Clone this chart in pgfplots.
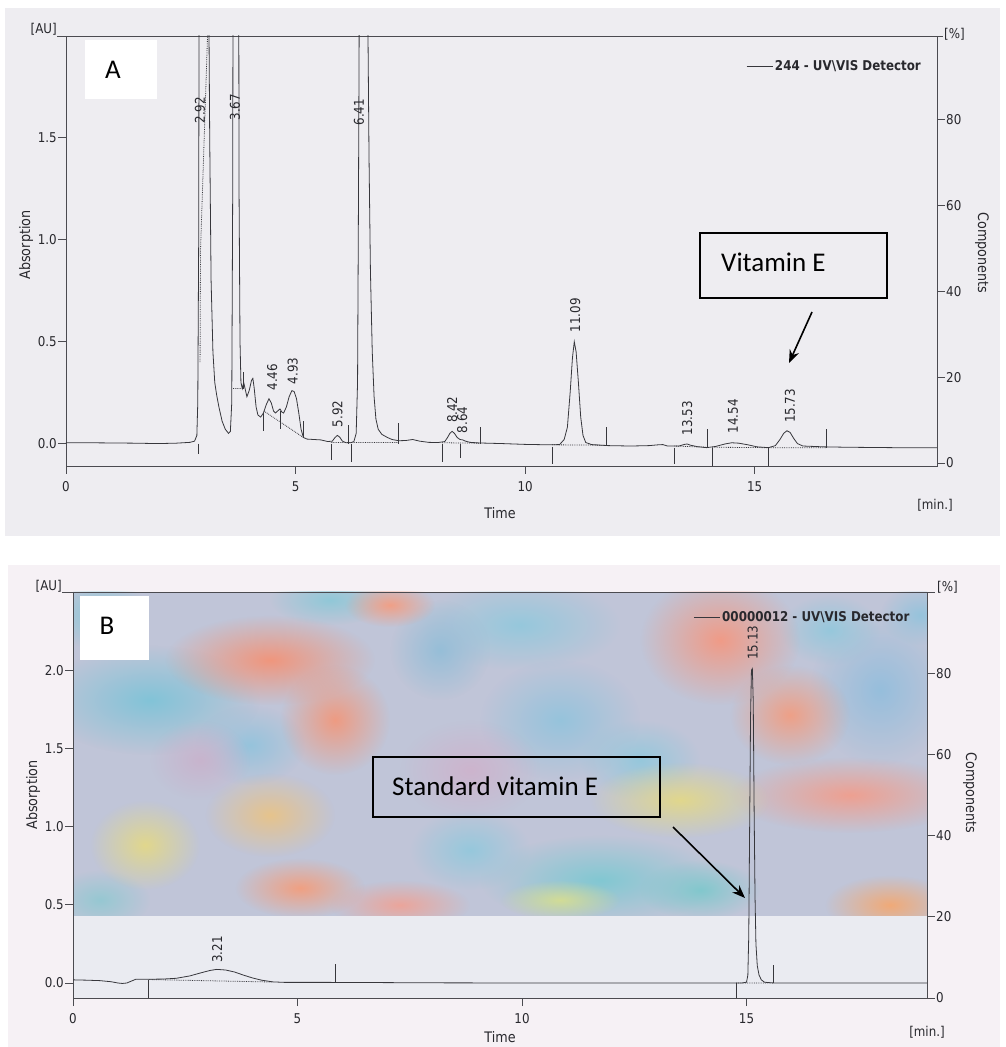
\documentclass[border=0pt]{standalone}
\usepackage{fontspec}
\usepackage{pgfplots}
\pgfplotsset{compat=1.18}
\usetikzlibrary{arrows.meta,fadings}
\setmainfont{DejaVu Sans}
\newfontfamily\tah[FakeStretch=0.88]{DejaVu Sans}
\newfontfamily\calfont{Carlito}
\newcommand{\tk}{\tah\fontsize{13.5}{15}\selectfont}
\newcommand{\tkl}{\tah\fontsize{14.5}{16}\selectfont}
\newcommand{\tkb}{\tah\bfseries\fontsize{13.5}{15}\selectfont}
\newcommand{\cb}{\calfont\fontsize{27}{30}\selectfont}
\definecolor{framecol}{RGB}{75,75,80}
\definecolor{tracecol}{RGB}{55,55,60}
\definecolor{txt}{RGB}{40,40,45}
\definecolor{bgA}{RGB}{238,237,241}
\definecolor{bgB}{RGB}{246,241,245}
\definecolor{bgBlow}{RGB}{234,235,241}
\definecolor{bgBtop}{RGB}{192,197,216}
\tikzfading[name=blobfade, inner color=transparent!0, outer color=transparent!100]
\pgfplotsset{
  chrom/.style={
    scale only axis,
    axis line style={draw=framecol, line width=0.9pt},
    tick style={draw=framecol, line width=0.9pt},
    tick align=outside,
    major tick length=8pt,
    xtick pos=left, ytick pos=left,
    xtick={0,5,10,15}, xticklabels={0,5,10,15},
    ticklabel style={font=\tk, text=txt},
    xticklabel style={yshift=-4pt},
    yticklabel style={inner xsep=1pt},
    unbounded coords=jump,
  },
  rightax/.style={
    scale only axis,
    axis x line=none,
    axis y line*=right,
    axis line style={draw=framecol, line width=0.9pt},
    tick style={draw=framecol, line width=0.9pt},
    tick align=outside,
    major tick length=8pt,
    ytick={0,20,40,60,80}, yticklabels={0,20,40,60,80},
    ticklabel style={font=\tk, text=txt},
    yticklabel style={inner xsep=1pt},
  },
}
\begin{document}
\begin{tikzpicture}
% ---------- backgrounds (pixel frame) ----------
\begin{scope}[x=1pt, y=-1pt, yshift=1047pt]
\fill[white] (0,0) rectangle (1005,1047);
\fill[bgA] (5,8) rectangle (1000,536);
\fill[bgB] (8,565) rectangle (1000,1047);
\fill[bgBlow] (73,916) rectangle (927,998);
\begin{scope}
\clip (73,592) rectangle (927,916);
\fill[bgBtop] (73,592) rectangle (927,916);
\foreach \x/\y/\rx/\ry/\r/\g/\b in {
  150/700/110/55/130/195/215, 100/615/50/35/140/200/215, 520/625/100/45/150/200/220,
  560/720/80/60/150/195/220, 600/880/120/45/130/200/210, 880/690/70/75/150/190/220,
  700/890/60/30/130/200/205, 440/650/50/50/150/190/215,
  330/600/60/25/145/200/215, 250/745/55/40/150/195/220, 640/760/60/40/150/200/220,
  100/900/50/30/150/200/210, 470/850/60/40/150/200/220, 830/630/50/35/150/200/220,
  920/615/40/30/150/195/220,
  470/770/70/50/205/180/205, 200/760/50/40/200/180/205,
  270/660/105/45/240/150/125, 335/720/55/55/238/155/130, 390/605/45/22/240/160/135,
  720/640/80/65/240/155/135, 790/715/60/50/238/160/135, 850/795/120/38/238/160/145,
  890/905/65/30/240/170/120, 300/888/65/30/240/160/130, 400/905/70/25/235/165/155,
  680/800/90/38/225/215/140, 270/815/65/42/230/195/140, 145/845/55/45/225/215/140,
  560/900/60/20/210/220/150}{
  \definecolor{blob}{RGB}{\r,\g,\b}
  \fill[blob, path fading=blobfade] (\x,\y) ellipse ({\rx} and {\ry});
}
\end{scope}
\end{scope}

% ================= PANEL A =================
\begin{axis}[chrom, at={(66pt,581pt)}, anchor=south west, width=871pt, height=430pt,
  xmin=0, xmax=18.97, ymin=-0.11, ymax=2.0,
  ytick={0,0.5,1,1.5}, yticklabels={0.0,0.5,1.0,1.5},
  legend style={at={(0.984,0.93)}, anchor=east, draw=none, fill=none, font=\tkb, text=txt, inner sep=0pt},
  legend image code/.code={\draw[#1, line width=0.6pt] (0pt,0pt) -- (26pt,0pt);}]
\addplot[tracecol, line width=0.8pt] coordinates {
(0,0.004) (0.5,0.004) (1,0.003) (1.5,0.002) (2,0.0) (2.4,0.002) (2.7,0.006) (2.8,0.012)
(2.85,0.04) (2.87,0.2) (2.89,1.0) (2.9,2.5) (2.93,3.5) (3.05,3.5) (3.1,2.5) (3.13,1.5)
(3.16,0.8) (3.2,0.45) (3.24,0.3) (3.28,0.24) (3.33,0.18) (3.4,0.11) (3.47,0.07) (3.54,0.05)
(3.58,0.06) (3.61,0.2) (3.63,1.2) (3.64,2.5) (3.66,3.5) (3.74,3.5) (3.76,2.5) (3.77,1.2)
(3.79,0.5) (3.81,0.3) (3.84,0.27) (3.87,0.3) (3.9,0.27) (3.94,0.23) (3.99,0.26) (4.04,0.31)
(4.07,0.32) (4.1,0.27) (4.14,0.18) (4.18,0.14) (4.24,0.13) (4.3,0.15) (4.36,0.19) (4.42,0.22)
(4.47,0.2) (4.52,0.16) (4.56,0.15) (4.61,0.16) (4.66,0.17) (4.7,0.155) (4.74,0.15) (4.8,0.18)
(4.86,0.23) (4.92,0.26) (4.97,0.255) (5.02,0.22) (5.07,0.15) (5.12,0.07) (5.17,0.03) (5.25,0.022)
(5.4,0.02) (5.55,0.018) (5.7,0.01) (5.8,0.012) (5.86,0.03) (5.91,0.04) (5.96,0.032) (6.02,0.012)
(6.1,0.004) (6.2,0.004) (6.27,0.01) (6.32,0.05) (6.35,0.3) (6.37,1.2) (6.39,2.3) (6.43,3.8)
(6.48,4.2) (6.53,3.3) (6.57,2.2) (6.6,1.4) (6.63,0.85) (6.67,0.45) (6.71,0.23) (6.75,0.12)
(6.8,0.07) (6.88,0.045) (7.0,0.03) (7.1,0.02) (7.25,0.014) (7.4,0.015) (7.55,0.02) (7.7,0.012)
(7.9,0.006) (8.1,0.005) (8.25,0.01) (8.31,0.03) (8.36,0.05) (8.41,0.06) (8.46,0.05) (8.52,0.03)
(8.58,0.02) (8.64,0.018) (8.7,0.012) (8.8,0.006) (9.0,0.003) (9.5,0.0) (10,-0.004) (10.5,-0.006)
(10.75,-0.005) (10.85,0.02) (10.92,0.08) (10.98,0.25) (11.03,0.42) (11.07,0.5) (11.11,0.45)
(11.16,0.3) (11.21,0.13) (11.26,0.04) (11.32,0.005) (11.45,-0.005) (11.8,-0.01) (12.3,-0.012)
(12.7,-0.01) (12.9,-0.006) (13.0,-0.005) (13.1,-0.012) (13.35,-0.012) (13.47,-0.004) (13.53,-0.002)
(13.6,-0.008) (13.75,-0.015) (13.95,-0.02) (14.15,-0.014) (14.35,-0.002) (14.5,0.004) (14.65,0.002)
(14.85,-0.006) (15.05,-0.016) (15.3,-0.02) (15.45,-0.01) (15.55,0.02) (15.63,0.05) (15.7,0.063)
(15.77,0.055) (15.85,0.025) (15.93,0.0) (16.05,-0.012) (16.5,-0.016) (17.0,-0.018) (18,-0.02) (18.97,-0.02)
};
\addlegendentry{244 - UV\textbackslash VIS Detector}
% integration baselines (dotted)
\addplot[tracecol, densely dotted, line width=0.8pt, forget plot] coordinates {
(2.92,0.4) (2.93,0.95) (3.09,2.05) (nan,nan)
(3.64,0.27) (3.85,0.27) (nan,nan)
(4.31,0.16) (5.17,0.03) (nan,nan)
(5.77,0.005) (7.23,0.005) (nan,nan)
(8.19,0.004) (9.0,0.002) (nan,nan)
(10.59,-0.006) (11.76,-0.008) (nan,nan)
(13.25,-0.012) (13.96,-0.018) (nan,nan)
(14.07,-0.018) (15.29,-0.02) (16.56,-0.02)
};
% peak start/end markers
\addplot[tracecol, line width=0.8pt, forget plot] coordinates {
(2.88,0) (2.88,-0.05) (nan,nan)
(3.87,0.35) (3.87,0.27) (nan,nan)
(4.31,0.15) (4.31,0.06) (nan,nan)
(4.66,0.16) (4.66,0.07) (nan,nan)
(5.18,0.11) (5.18,0.03) (nan,nan)
(5.77,0.0) (5.77,-0.08) (nan,nan)
(6.14,0.09) (6.14,0.0) (nan,nan)
(6.21,0.0) (6.21,-0.09) (nan,nan)
(7.23,0.1) (7.23,0.0) (nan,nan)
(8.19,0.0) (8.19,-0.09) (nan,nan)
(8.58,0.0) (8.58,-0.07) (nan,nan)
(9.02,0.08) (9.02,0.0) (nan,nan)
(10.59,-0.015) (10.59,-0.1) (nan,nan)
(11.76,0.08) (11.76,-0.01) (nan,nan)
(13.25,-0.02) (13.25,-0.1) (nan,nan)
(13.96,0.07) (13.96,-0.02) (nan,nan)
(14.07,-0.02) (14.07,-0.11) (nan,nan)
(15.29,-0.02) (15.29,-0.11) (nan,nan)
(16.56,0.07) (16.56,-0.02)
};
\begin{scope}[every node/.style={rotate=90, anchor=west, inner sep=0pt, font=\tk, text=txt}]
\node at (axis cs:2.92,1.57) {2.92};
\node at (axis cs:3.68,1.585) {3.67};
\node at (axis cs:6.38,1.56) {6.41};
\node at (axis cs:4.49,0.26) {4.46};
\node at (axis cs:4.94,0.29) {4.93};
\node at (axis cs:5.91,0.08) {5.92};
\node at (axis cs:8.41,0.10) {8.42};
\node at (axis cs:8.63,0.05) {8.64};
\node at (axis cs:11.09,0.545) {11.09};
\node at (axis cs:13.53,0.04) {13.53};
\node at (axis cs:14.53,0.05) {14.54};
\node at (axis cs:15.77,0.10) {15.73};
\end{scope}
\end{axis}
\begin{axis}[rightax, at={(66pt,581pt)}, anchor=south west, width=871pt, height=430pt,
  xmin=0, xmax=18.97, ymin=-0.7, ymax=99.5]
\addplot[draw=none] coordinates {(1,50)};
\end{axis}

% ================= PANEL B =================
\begin{axis}[chrom, at={(73pt,49pt)}, anchor=south west, width=854pt, height=406pt,
  xmin=0, xmax=19.02, ymin=-0.096, ymax=2.5,
  ytick={0,0.5,1,1.5,2}, yticklabels={0.0,0.5,1.0,1.5,2.0},
  legend style={at={(0.982,0.938)}, anchor=east, draw=none, fill=none, font=\tkb, text=txt, inner sep=0pt},
  legend image code/.code={\draw[#1, line width=0.6pt] (0pt,0pt) -- (26pt,0pt);}]
\addplot[tracecol, line width=0.8pt] coordinates {
(0,0.02) (0.3,0.018) (0.6,0.015) (0.85,0.008) (1.0,0.0) (1.1,-0.003) (1.2,0.0) (1.3,0.012)
(1.4,0.024) (1.7,0.024) (2.0,0.025) (2.3,0.03) (2.6,0.045) (2.85,0.065) (3.05,0.08) (3.2,0.087)
(3.4,0.083) (3.6,0.07) (3.8,0.05) (4.0,0.032) (4.2,0.018) (4.45,0.007) (4.7,0.004) (5.5,0.004)
(6.5,0.003) (8,0.001) (10,0.0) (12,0.0) (14,0.0) (14.9,0.0) (15.0,0.005) (15.03,0.05) (15.05,0.3)
(15.07,1.0) (15.09,1.7) (15.11,2.0) (15.13,2.01) (15.15,1.8) (15.17,1.1) (15.19,0.55) (15.21,0.25)
(15.24,0.11) (15.28,0.05) (15.33,0.02) (15.4,0.005) (15.6,0.0) (17,0.0) (19.02,0.0)
};
\addlegendentry{00000012 - UV\textbackslash VIS Detector}
\addplot[tracecol, densely dotted, line width=0.8pt, forget plot] coordinates {
(1.69,0.022) (4.45,0.006) (nan,nan)
(14.77,0.0) (15.61,0.0)
};
\addplot[tracecol, line width=0.8pt, forget plot] coordinates {
(1.69,0.022) (1.69,-0.096) (nan,nan)
(5.84,0.12) (5.84,0.004) (nan,nan)
(14.77,0.0) (14.77,-0.096) (nan,nan)
(15.61,0.115) (15.61,0.0)
};
\begin{scope}[every node/.style={rotate=90, anchor=west, inner sep=0pt, font=\tk, text=txt}]
\node at (axis cs:3.21,0.128) {3.21};
\node at (axis cs:15.14,2.065) {15.13};
\end{scope}
\end{axis}
\begin{axis}[rightax, at={(73pt,49pt)}, anchor=south west, width=854pt, height=406pt,
  xmin=0, xmax=19.02, ymin=0, ymax=100]
\addplot[draw=none] coordinates {(1,50)};
\end{axis}

% ---------- overlays (pixel frame) ----------
\begin{scope}[x=1pt, y=-1pt, yshift=1047pt, every node/.style={font=\tk, text=txt}]
% panel A
\draw[framecol, line width=0.9pt] (57,36) -- (66,36) (937,36) -- (943,36);
\node[anchor=east, inner sep=0pt] at (57,29) {[AU]};
\node[anchor=west, inner sep=0pt] at (944,34) {[\%]};
\node[rotate=90, font=\tkl] at (26,245) {Absorption};
\node[rotate=-90, font=\tkl] at (982,253) {Components};
\node[font=\tkl] at (500,513) {Time};
\node at (935,505) {[min.]};
\fill[white] (85,40) rectangle (157,99);
\node[font=\cb, text=black] at (113,70) {A};
\draw[black, line width=1.6pt] (700,233) rectangle (887,298);
\node[font=\cb, text=black, anchor=west, inner sep=0pt] at (721,262) {Vitamin E};
\draw[black, line width=1.6pt, -{Stealth[length=13pt,width=10pt]}] (812,312) -- (789,363);
% panel B
\draw[framecol, line width=0.9pt] (62,592) -- (73,592) (927,592) -- (935,592);
\node[anchor=east, inner sep=0pt] at (62,586) {[AU]};
\node[anchor=west, inner sep=0pt] at (937,587) {[\%]};
\node[rotate=90, font=\tkl] at (33,795) {Absorption};
\node[rotate=-90, font=\tkl] at (970,793) {Components};
\node[font=\tkl] at (500,1037) {Time};
\node at (927,1032) {[min.]};
\fill[white] (80,596) rectangle (149,660);
\node[font=\cb, text=black] at (107,626) {B};
\draw[black, line width=1.6pt] (373,757) rectangle (660,817);
\node[font=\cb, text=black, anchor=west, inner sep=0pt] at (392,786) {Standard vitamin E};
\draw[black, line width=1.6pt, -{Stealth[length=13pt,width=10pt]}] (673,827) -- (745,898);
\end{scope}
\pgfresetboundingbox
\path[use as bounding box] (0,0) rectangle (1005pt,1047pt);
\end{tikzpicture}
\end{document}
